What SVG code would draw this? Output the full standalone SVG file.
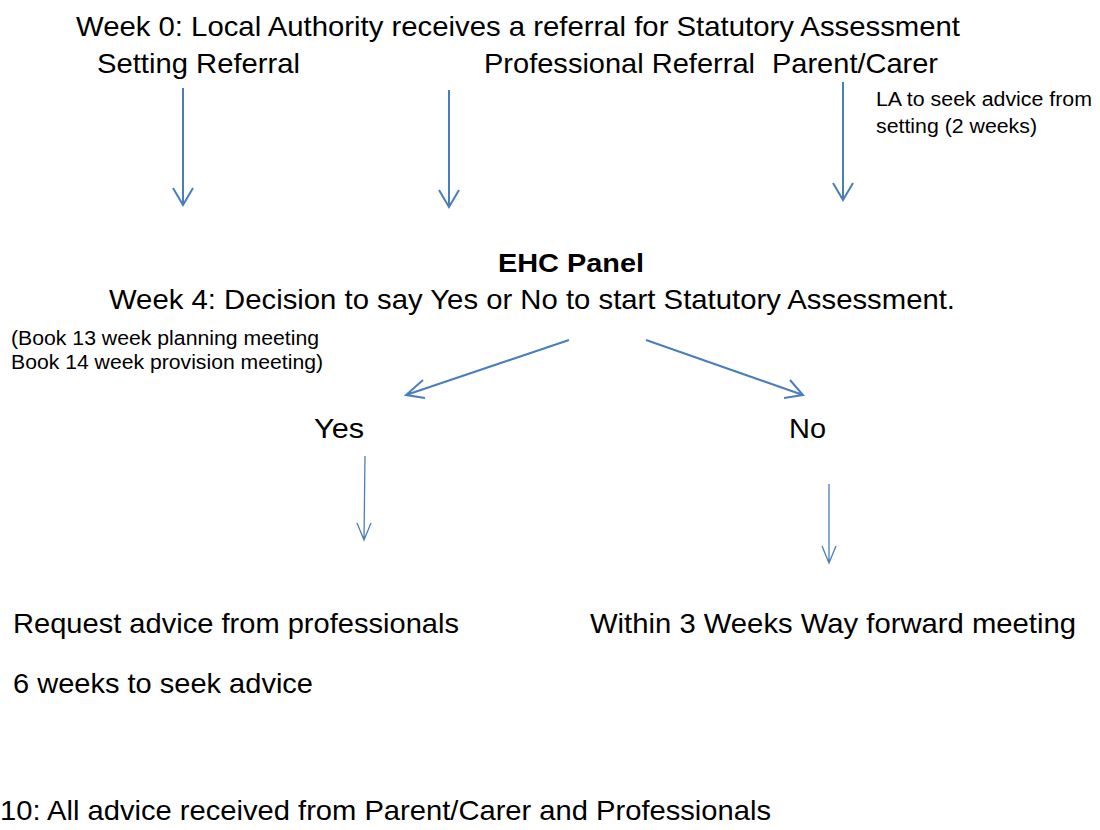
<svg xmlns="http://www.w3.org/2000/svg" width="1100" height="830" viewBox="0 0 1100 830">
<style>
text{font-family:"Liberation Sans",Arial,sans-serif;fill:#000}
.l{font-size:28px}
.s{font-size:20px}
.b{font-size:25px;font-weight:bold}
.a{stroke:#4a7ebb;stroke-width:2;fill:none}
.t{stroke:#4a7ebb;stroke-width:1.3;fill:none}
</style>
<rect width="1100" height="830" fill="#fff"/>
<g id="title"><text class="l" x="76" y="36" textLength="884" lengthAdjust="spacingAndGlyphs">Week 0: Local Authority receives a referral for Statutory Assessment</text></g>
<g id="setting"><text class="l" x="97" y="73" textLength="203" lengthAdjust="spacingAndGlyphs">Setting Referral</text></g>
<g id="professional"><text class="l" x="484" y="73" textLength="271" lengthAdjust="spacingAndGlyphs">Professional Referral</text></g>
<g id="parent"><text class="l" x="772" y="73" textLength="166" lengthAdjust="spacingAndGlyphs">Parent/Carer</text></g>
<g id="la-note"><text class="s" x="876" y="106" textLength="216" lengthAdjust="spacingAndGlyphs">LA to seek advice from</text><text class="s" x="876" y="133" textLength="161" lengthAdjust="spacingAndGlyphs">setting (2 weeks)</text></g>
<g id="panel"><text class="b" x="498" y="272" textLength="146" lengthAdjust="spacingAndGlyphs">EHC Panel</text><text class="l" x="109" y="309" textLength="846" lengthAdjust="spacingAndGlyphs">Week 4: Decision to say Yes or No to start Statutory Assessment.</text></g>
<g id="book-note"><text class="s" x="11" y="345" textLength="308" lengthAdjust="spacingAndGlyphs">(Book 13 week planning meeting</text><text class="s" x="11" y="369" textLength="312" lengthAdjust="spacingAndGlyphs">Book 14 week provision meeting)</text></g>
<g id="yes"><text class="l" x="314" y="438" textLength="50" lengthAdjust="spacingAndGlyphs">Yes</text></g>
<g id="no"><text class="l" x="789" y="438" textLength="37" lengthAdjust="spacingAndGlyphs">No</text></g>
<g id="request"><text class="l" x="13" y="633" textLength="446" lengthAdjust="spacingAndGlyphs">Request advice from professionals</text></g>
<g id="within"><text class="l" x="590" y="633" textLength="486" lengthAdjust="spacingAndGlyphs">Within 3 Weeks Way forward meeting</text></g>
<g id="six-weeks"><text class="l" x="13" y="693" textLength="300" lengthAdjust="spacingAndGlyphs">6 weeks to seek advice</text></g>
<g id="week10"><text class="l" x="0" y="820" textLength="771" lengthAdjust="spacingAndGlyphs">10: All advice received from Parent/Carer and Professionals</text></g>
<g id="connectors">
<path class="a" d="M183 88V205M173 188L183 205L193 188"/>
<path class="a" d="M449 90V207M439 190L449 207L459 190"/>
<path class="a" d="M843 82V200M833 183L843 200L853 183"/>
<path class="a" d="M569 340L406 395M423 380L406 395L425 398"/>
<path class="a" d="M646 340L803 395M790 380L803 395L784 398"/>
<path class="t" d="M365 456L364 540M357 523L364 540L371 523"/>
<path class="t" d="M829 484V563M822 546L829 563L836 546"/>
</g>
</svg>
